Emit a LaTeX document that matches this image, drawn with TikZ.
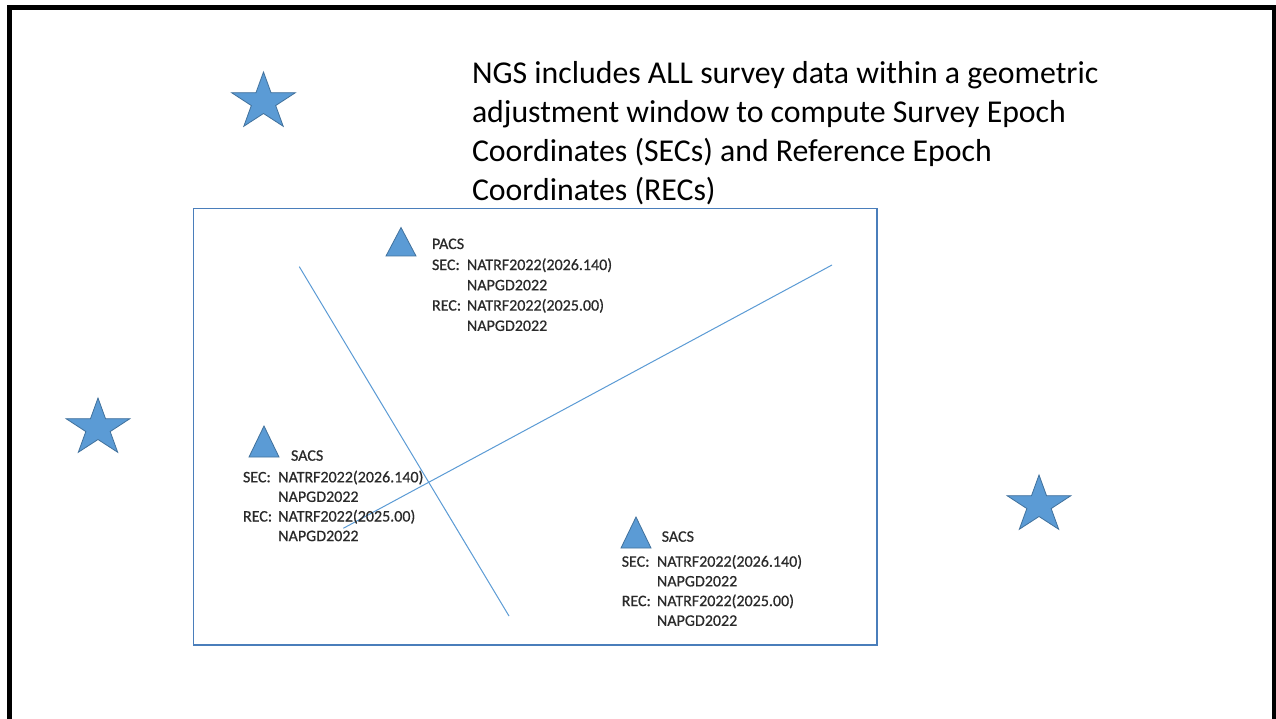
\documentclass[tikz,border=0pt]{standalone}
\usepackage{fontspec}
\setmainfont{Carlito}
\newfontfamily\labelfont[FakeBold=0.6]{Carlito}
\usetikzlibrary{calc}
\definecolor{fillblue}{HTML}{5B9BD5}
\definecolor{edgeblue}{HTML}{41719C}
\definecolor{boxblue}{HTML}{4A7EBB}
\definecolor{txt}{HTML}{2A2A2A}
\newcommand\bluestar[3]{%
  \coordinate (#1) at (#2,#3);
  \draw[shapefill] ($(#1)+(-90:33.5 and 30)$) \foreach \k in {0,...,3}{ -- ($(#1)+(-54+72*\k:12.8 and 11.5)$) -- ($(#1)+(-18+72*\k:33.5 and 30)$) } -- ($(#1)+(234:12.8 and 11.5)$) -- cycle;}
\begin{document}
\begin{tikzpicture}[x=1pt,y=-1pt,
  every node/.style={inner sep=0pt, outer sep=0pt},
  small/.style={font=\labelfont\fontsize{16}{19}\selectfont, anchor=base west, text=txt},
  titletext/.style={font=\fontsize{31.8}{39}\selectfont, anchor=base west, text=black},
  shapefill/.style={fill=fillblue, draw=edgeblue, line width=0.8pt, line join=miter},
  crossline/.style={draw=fillblue, line width=1pt},
]
\useasboundingbox (0,0) rectangle (1276,719);
\fill[white] (0,0) rectangle (1276,719);
% outer frame
\draw[line width=4.8pt] (9.7,760) -- (9.7,7.5) -- (1274,7.5) -- (1274,760);
% title
\node[titletext] (t1) at (472,83.3) {NGS includes ALL survey data within a geometric};
\node[titletext] (t2) at (472,122.3) {adjustment window to compute Survey Epoch};
\node[titletext] (t3) at (472,161.3) {Coordinates (SECs) and Reference Epoch};
\node[titletext] (t4) at (472,200.3) {Coordinates (RECs)};
% stars
\bluestar{s1}{263.5}{102}
\bluestar{s2}{98}{428}
\bluestar{s3}{1039}{505}
% adjustment window
\draw[draw=boxblue, line width=1.3pt] (193.3,208.3) rectangle (877,645);
% lines
\coordinate (l1a) at (299.3,266.7);
\coordinate (l1b) at (509,616);
\coordinate (l2a) at (832,265);
\coordinate (l2b) at (343.3,528.3);
\draw[crossline] (l1a) -- (l1b);
\draw[crossline] (l2a) -- (l2b);
% triangles
\draw[shapefill] (386,256) coordinate (pa1) -- (416,256) coordinate (pa2) -- (401,227.5) coordinate (pa3) -- cycle;
\draw[shapefill] (249,457) coordinate (sa1) -- (279,457) coordinate (sa2) -- (264,426) coordinate (sa3) -- cycle;
\draw[shapefill] (621,548) coordinate (sb1) -- (651,548) coordinate (sb2) -- (636,517) coordinate (sb3) -- cycle;
% PACS labels
\node[small] (pn) at (432,249) {PACS};
\node[small] (pk1) at (432,270) {SEC:};
\node[small] (pv1) at (467,270) {NATRF2022(2026.140)};
\node[small] (pv2) at (467,290.3) {NAPGD2022};
\node[small] (pk3) at (432,310.6) {REC:};
\node[small] (pv3) at (467,310.6) {NATRF2022(2025.00)};
\node[small] (pv4) at (467,330.9) {NAPGD2022};
% left SACS labels
\node[small] (ln) at (291,460.7) {SACS};
\node[small] (lk1) at (243,482.3) {SEC:};
\node[small] (lv1) at (278.3,482.3) {NATRF2022(2026.140)};
\node[small] (lv2) at (278.3,501.9) {NAPGD2022};
\node[small] (lk3) at (243,521.5) {REC:};
\node[small] (lv3) at (278.3,521.5) {NATRF2022(2025.00)};
\node[small] (lv4) at (278.3,541.1) {NAPGD2022};
% right SACS labels
\node[small] (rn) at (661.7,541.7) {SACS};
\node[small] (rk1) at (621.7,566.7) {SEC:};
\node[small] (rv1) at (657,566.7) {NATRF2022(2026.140)};
\node[small] (rv2) at (657,586.4) {NAPGD2022};
\node[small] (rk3) at (621.7,606.1) {REC:};
\node[small] (rv3) at (657,606.1) {NATRF2022(2025.00)};
\node[small] (rv4) at (657,625.8) {NAPGD2022};
\end{tikzpicture}
\end{document}
